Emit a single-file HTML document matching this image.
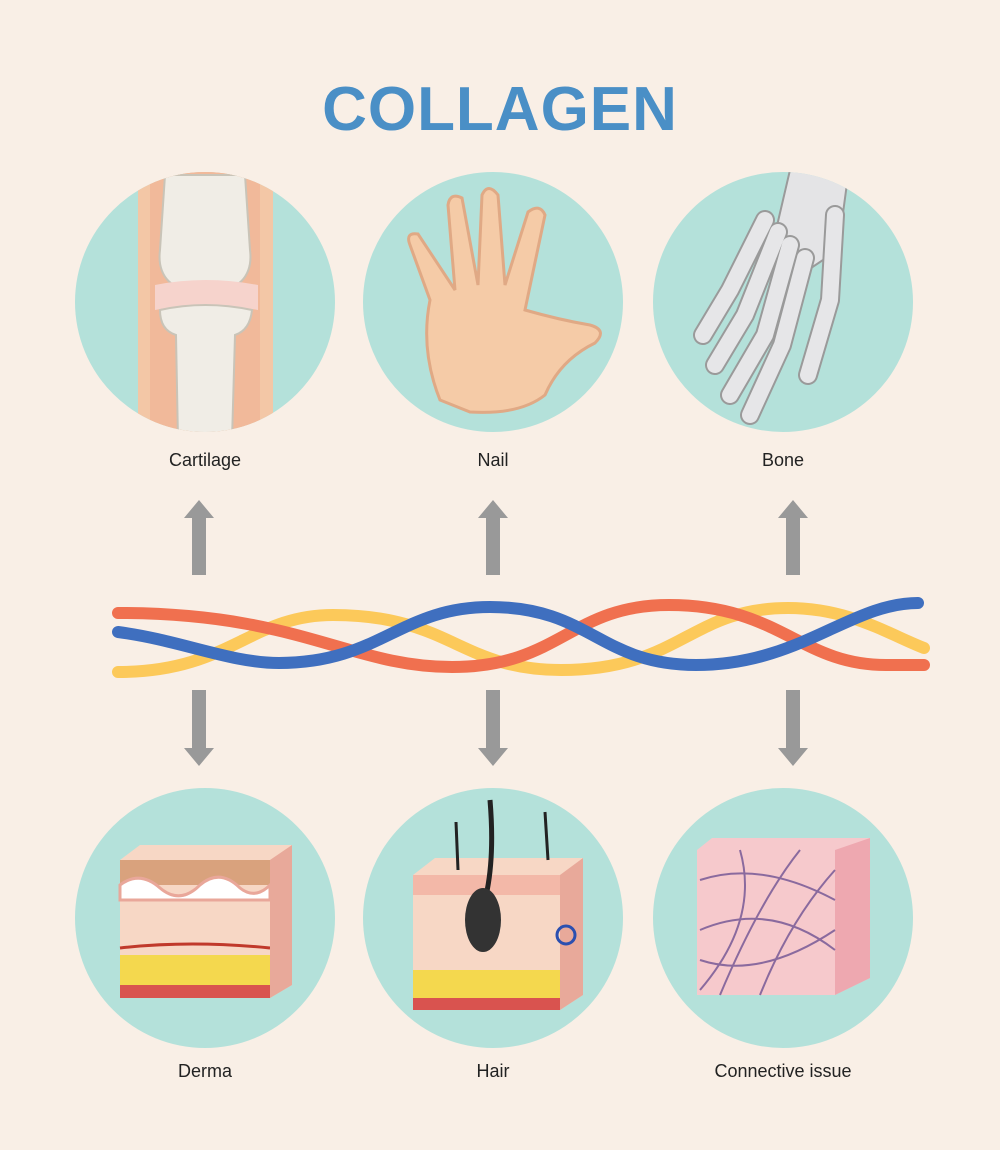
<!DOCTYPE html>
<html><head><meta charset="utf-8"><style>
html,body{margin:0;padding:0;background:#f9efe6;}
body{width:1000px;height:1150px;position:relative;overflow:hidden;font-family:"Liberation Sans",sans-serif;}
.t{position:absolute;left:0;width:1000px;text-align:center;top:74px;font-size:62px;font-weight:bold;color:#4a8fc6;letter-spacing:1px;}
.l{position:absolute;width:260px;text-align:center;font-size:18px;color:#222;}
</style></head><body>
<div class="t">COLLAGEN</div>
<svg width="1000" height="1150" style="position:absolute;left:0;top:0">
<defs>
<clipPath id="c1"><circle cx="205" cy="302" r="130"/></clipPath>
<clipPath id="c3"><circle cx="783" cy="302" r="130"/></clipPath>
</defs>
<g fill="#b4e1da">
<circle cx="205" cy="302" r="130"/><circle cx="493" cy="302" r="130"/><circle cx="783" cy="302" r="130"/>
<circle cx="205" cy="918" r="130"/><circle cx="493" cy="918" r="130"/><circle cx="783" cy="918" r="130"/>
</g>
<!-- knee -->
<g clip-path="url(#c1)">
<rect x="138" y="170" width="135" height="270" fill="#f3c7a6"/>
<rect x="150" y="170" width="110" height="270" fill="#f1b99a"/>
<path d="M165 175 L245 175 L250 250 Q255 290 205 295 Q155 290 160 250Z" fill="#f0ede6" stroke="#c9c4b8" stroke-width="2"/>
<path d="M155 285 Q205 275 258 285 L258 310 Q205 300 155 310Z" fill="#f6d3cc"/>
<path d="M160 310 Q205 300 252 310 Q250 330 235 335 L232 440 L178 440 L176 335 Q160 330 160 310Z" fill="#f0ede6" stroke="#c9c4b8" stroke-width="2"/>
</g>
<!-- hand -->
<path d="M440 400 Q420 350 430 300 L410 245 Q405 232 418 234 L455 290 L448 205 Q450 192 462 198 L478 285 L482 195 Q488 182 498 195 L505 285 L528 212 Q540 203 545 215 L525 310 Q560 320 590 325 Q608 330 595 343 Q560 360 545 395 Q520 415 470 412Z" fill="#f5cba7" stroke="#e0a985" stroke-width="3"/>
<!-- bone hand -->
<g clip-path="url(#c3)" fill="none" stroke-linecap="round" stroke-linejoin="round">
<path d="M790 170 L848 176 L838 250 L805 272 L776 230Z" fill="#e4e4e6" stroke="#9a9a9a" stroke-width="2"/>
<g stroke="#9a9a9a" stroke-width="20">
<path d="M765 220 L730 290 L703 335"/><path d="M778 232 L745 315 L715 365"/><path d="M790 245 L765 335 L730 395"/><path d="M805 258 L782 345 L750 415"/><path d="M835 215 L830 300 L808 375"/>
</g>
<g stroke="#e6e6e8" stroke-width="16">
<path d="M765 220 L730 290 L703 335"/><path d="M778 232 L745 315 L715 365"/><path d="M790 245 L765 335 L730 395"/><path d="M805 258 L782 345 L750 415"/><path d="M835 215 L830 300 L808 375"/>
</g>
</g>
<!-- arrows -->
<g fill="#999">
<path d="M192 575 V518 H184 L199 500 L214 518 H206 V575Z"/>
<path d="M486 575 V518 H478 L493 500 L508 518 H500 V575Z"/>
<path d="M786 575 V518 H778 L793 500 L808 518 H800 V575Z"/>
<path d="M192 690 V748 H184 L199 766 L214 748 H206 V690Z"/>
<path d="M486 690 V748 H478 L493 766 L508 748 H500 V690Z"/>
<path d="M786 690 V748 H778 L793 766 L808 748 H800 V690Z"/>
</g>
<!-- strands -->
<g fill="none" stroke-width="12" stroke-linecap="round">
<path d="M118 672 C230 672 250 615 333 615 C450 615 460 670 561 670 C680 670 690 608 788 608 C850 608 890 635 924 648" stroke="#fcc95a"/>
<path d="M118 613 C300 613 350 667 452 667 C560 667 570 605 669 605 C780 605 800 665 886 665 L924 665" stroke="#f0704f"/>
<path d="M118 632 C180 640 230 663 279 663 C380 663 400 607 490 607 C590 607 600 665 696 665 C800 665 850 603 918 603" stroke="#3f6fbf"/>
</g>
<!-- derma -->
<g>
<path d="M120 860 L140 845 L292 845 L292 985 L270 998 L120 998Z" fill="#f7d7c5"/>
<rect x="120" y="860" width="150" height="25" fill="#d9a27d"/>
<path d="M120 885 Q140 870 160 888 Q180 905 200 885 Q220 868 240 888 Q255 900 270 885 L270 900 L120 900Z" fill="#fff" stroke="#e9a79a" stroke-width="3"/>
<rect x="120" y="955" width="150" height="30" fill="#f4d84e"/>
<rect x="120" y="985" width="150" height="13" fill="#d9534f"/>
<path d="M120 948 Q190 940 270 948" stroke="#c0392b" stroke-width="3" fill="none"/>
<path d="M270 860 L292 845 L292 985 L270 998Z" fill="#e8a99a"/>
</g>
<!-- hair -->
<g>
<path d="M413 875 L435 858 L583 858 L583 995 L560 1010 L413 1010Z" fill="#f7d7c5"/>
<rect x="413" y="875" width="147" height="20" fill="#f3b8a8"/>
<rect x="413" y="970" width="147" height="28" fill="#f4d84e"/>
<rect x="413" y="998" width="147" height="12" fill="#d9534f"/>
<path d="M560 875 L583 858 L583 995 L560 1010Z" fill="#e8a99a"/>
<path d="M490 800 Q495 860 485 900" stroke="#222" stroke-width="5" fill="none"/>
<path d="M456 822 L458 870" stroke="#222" stroke-width="3"/><path d="M545 812 L548 860" stroke="#222" stroke-width="3"/>
<ellipse cx="483" cy="920" rx="18" ry="32" fill="#333"/>
<circle cx="566" cy="935" r="9" fill="none" stroke="#2b4fb0" stroke-width="3"/>
</g>
<!-- connective -->
<g>
<path d="M697 850 L712 838 L870 838 L870 978 L835 995 L697 995Z" fill="#f6c9cc"/>
<path d="M835 850 L870 838 L870 978 L835 995Z" fill="#eea8b0"/>
<g stroke="#8a6a9e" stroke-width="2" fill="none">
<path d="M700 880 Q760 860 835 900"/><path d="M700 930 Q770 900 835 950"/><path d="M720 995 Q760 900 800 850"/>
<path d="M760 995 Q790 920 835 870"/><path d="M700 960 Q760 980 835 930"/><path d="M740 850 Q760 920 700 990"/>
</g>
</g>
</svg>
<div class="l" style="left:75px;top:450px">Cartilage</div>
<div class="l" style="left:363px;top:450px">Nail</div>
<div class="l" style="left:653px;top:450px">Bone</div>
<div class="l" style="left:75px;top:1061px">Derma</div>
<div class="l" style="left:363px;top:1061px">Hair</div>
<div class="l" style="left:653px;top:1061px">Connective issue</div>
</body></html>
